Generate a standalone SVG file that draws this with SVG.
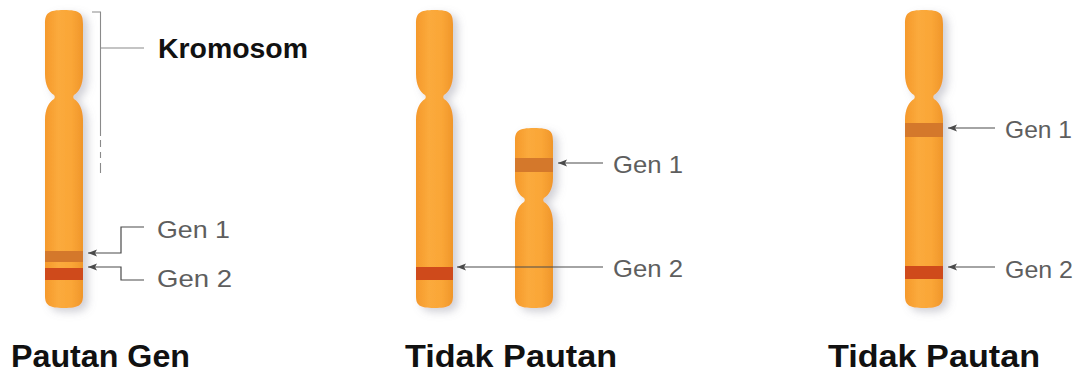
<svg xmlns="http://www.w3.org/2000/svg" width="1085" height="375" viewBox="0 0 1085 375">
  <defs>
    <linearGradient id="body" x1="0" y1="0" x2="1" y2="0">
      <stop offset="0" stop-color="#f5992b"/>
      <stop offset="0.35" stop-color="#fbaa3c"/>
      <stop offset="0.7" stop-color="#faa637"/>
      <stop offset="1" stop-color="#f0962a"/>
    </linearGradient>
    <filter id="shade" x="-40%" y="-10%" width="200%" height="130%">
      <feDropShadow dx="5" dy="4" stdDeviation="4" flood-color="#7a7a8a" flood-opacity="0.35"/>
    </filter>
    <marker id="tip" markerUnits="userSpaceOnUse" markerWidth="10" markerHeight="8" refX="9" refY="3.5" orient="auto">
      <path d="M0,0 L9,3.5 L0,7 L2,3.5 z" fill="#4a4a4a"/>
    </marker>
  </defs>
  <style>
    .chrom { fill: url(#body); filter: url(#shade); }
    .band1 { fill: #d4782b; }
    .band2 { fill: #cf4a1b; }
    .lead { fill: none; stroke: #4a4a4a; stroke-width: 1.2; marker-end: url(#tip); }
    .bracket { fill: none; stroke: #8a8a8a; stroke-width: 1.1; }
    .gen { font-family: "Liberation Sans", Arial, sans-serif; font-size: 24px; fill: #5e5e5e; }
    .title { font-family: "Liberation Sans", Arial, sans-serif; font-weight: bold; font-size: 31px; fill: #111; }
  </style>

  <!-- chromosome 1: linked genes -->
  <g id="chrom-linked">
    <path class="chrom" d="M45,24 C45,13 48,10 64,10 C80,10 83,13 83,24 L83,74 C83,85 79,92 74,95 Q72.5,97 74,99 C79,102 83,109 83,120 L83,296 C83,305 79,308 64,308 C49,308 45,305 45,296 L45,120 C45,109 49,102 54,99 Q55.5,97 54,95 C49,92 45,85 45,74 Z"/>
    <rect class="band1" x="45" y="251" width="38" height="11"/>
    <rect class="band2" x="45" y="268" width="38" height="12"/>
  </g>

  <!-- chromosome 2: long, carries gene 2 -->
  <g id="chrom-long">
    <path class="chrom" d="M416,24 C416,13 419,10 434.5,10 C450,10 453,13 453,24 L453,74 C453,85 449,92 444,95 Q442.5,97 444,99 C449,102 453,109 453,120 L453,296 C453,305 450,308 434.5,308 C419,308 416,305 416,296 L416,120 C416,109 420,102 425,99 Q426.5,97 425,95 C420,92 416,85 416,74 Z"/>
    <rect class="band2" x="416" y="267" width="37" height="13"/>
  </g>

  <!-- chromosome 3: short, carries gene 1 -->
  <g id="chrom-short">
    <path class="chrom" d="M515,141 C515,131 518,128 534,128 C550,128 553,131 553,141 L553,178 C553,189 549,195 544,198 Q542.5,200 544,202 C549,205 553,212 553,223 L553,296 C553,305 549,308 534,308 C519,308 515,305 515,296 L515,223 C515,212 519,205 524,202 Q525.5,200 524,198 C519,195 515,189 515,178 Z"/>
    <rect class="band1" x="515" y="158" width="38" height="14" fill="#c8722a"/>
  </g>

  <!-- chromosome 4: genes far apart -->
  <g id="chrom-far">
    <path class="chrom" d="M905,24 C905,13 908,10 924,10 C940,10 943,13 943,24 L943,74 C943,85 939,92 934,95 Q932.5,97 934,99 C939,102 943,109 943,120 L943,296 C943,305 939,308 924,308 C909,308 905,305 905,296 L905,120 C905,109 909,102 914,99 Q915.5,97 914,95 C909,92 905,85 905,74 Z"/>
    <rect class="band1" x="905" y="123" width="38" height="14"/>
    <rect class="band2" x="905" y="266" width="38" height="13"/>
  </g>

  <!-- bracket marking the chromosome -->
  <g id="bracket">
    <path class="bracket" d="M92,12 L100.5,12 L100.5,136 M100.5,48 L144,48"/>
    <path class="bracket" d="M100.5,140 L100.5,147 M100.5,152 L100.5,158 M100.5,163 L100.5,173"/>
  </g>

  <!-- leader arrows -->
  <g id="connectors">
    <polyline class="lead" points="144,227 121,227 121,253 88,253"/>
    <polyline class="lead" points="144,280 121,280 121,267 88,267"/>
    <line class="lead" x1="603" y1="163" x2="558" y2="163"/>
    <line class="lead" x1="603" y1="267" x2="457" y2="267"/>
    <line class="lead" x1="995" y1="128" x2="948" y2="128"/>
    <line class="lead" x1="995" y1="267" x2="948" y2="267"/>
  </g>

  <!-- labels -->
  <g id="labels">
    <text x="158" y="58" font-family="'Liberation Sans', Arial, sans-serif" font-weight="bold" font-size="27" fill="#111" textLength="150" lengthAdjust="spacingAndGlyphs">Kromosom</text>
    <text class="gen" x="157" y="238" font-size="23" textLength="73" lengthAdjust="spacingAndGlyphs">Gen 1</text>
    <text class="gen" x="157" y="287" font-size="23" textLength="75" lengthAdjust="spacingAndGlyphs">Gen 2</text>
    <text class="gen" x="613" y="173" textLength="70" lengthAdjust="spacingAndGlyphs">Gen 1</text>
    <text class="gen" x="613" y="277" textLength="70" lengthAdjust="spacingAndGlyphs">Gen 2</text>
    <text class="gen" x="1005" y="138" textLength="67" lengthAdjust="spacingAndGlyphs">Gen 1</text>
    <text class="gen" x="1005" y="278" textLength="68" lengthAdjust="spacingAndGlyphs">Gen 2</text>
    <text class="title" x="11" y="367" textLength="179" lengthAdjust="spacingAndGlyphs">Pautan Gen</text>
    <text class="title" x="405" y="367" textLength="212" lengthAdjust="spacingAndGlyphs">Tidak Pautan</text>
    <text class="title" x="828" y="367" textLength="212" lengthAdjust="spacingAndGlyphs">Tidak Pautan</text>
  </g>
</svg>
